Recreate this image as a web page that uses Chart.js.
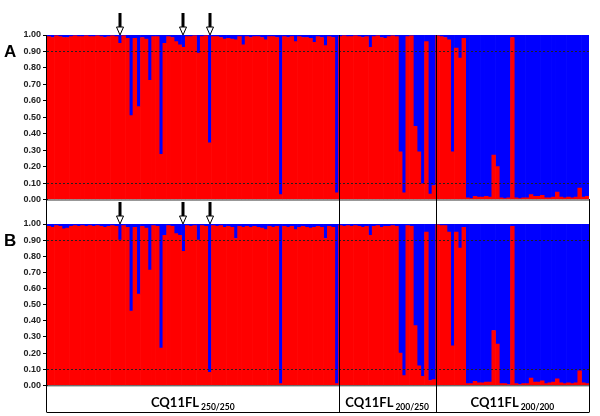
<!DOCTYPE html>
<html>
<head>
<meta charset="utf-8">
<script src="https://cdn.jsdelivr.net/npm/chart.js@4"></script>
<style>
  html, body { margin: 0; padding: 0; background: #fff; }
  #wrap { position: relative; width: 600px; height: 416px; }
  #wrap canvas { position: absolute; left: 0; top: 0; }
</style>
</head>
<body>
<div id="wrap">
  <canvas id="chartA" width="600" height="416"></canvas>
  <canvas id="chartB" width="600" height="416"></canvas>
</div>
<script>
// groups of individuals
const groupNames = ['CQ11FL', 'CQ11FL', 'CQ11FL'];
const groupSubs = ['250/250', '200/250', '200/200'];

// red cluster membership, panel A, per group
const redA1 = [0.99,0.985,0.995,0.99,0.985,0.985,0.99,0.995,0.99,0.99,
  0.995,0.99,0.99,0.995,0.99,0.985,0.99,0.995,0.99,0.95,
  0.995,0.98,0.51,0.98,0.565,0.985,0.975,0.725,0.99,0.99,
  0.275,0.95,0.99,0.985,0.96,0.94,0.925,0.99,0.99,0.995,
  0.89,0.99,0.995,0.345,0.99,0.99,0.985,0.975,0.98,0.975,
  0.97,0.99,0.94,0.99,0.985,0.99,0.99,0.985,0.97,0.99,
  0.99,0.985,0.03,0.99,0.985,0.99,0.96,0.99,0.985,0.985,
  0.98,0.955,0.99,0.985,0.935,0.99,0.985,0.04];
const redA2 = [0.99,0.995,0.99,0.99,0.995,0.99,0.985,0.99,0.925,0.99,
  0.995,0.985,0.98,0.99,0.995,0.99,0.29,0.04,0.99,0.995,
  0.445,0.29,0.095,0.96,0.033,0.085];
const redA3 = [0.995,0.99,0.985,0.97,0.29,0.92,0.86,0.98,0.01,0.005,
  0.02,0.015,0.015,0.02,0.015,0.27,0.20,0.01,0.005,0.01,
  0.985,0.01,0.005,0.01,0.01,0.03,0.02,0.02,0.025,0.01,
  0.01,0.015,0.045,0.015,0.01,0.015,0.01,0.015,0.07,0.015,
  0.02];

// red cluster membership, panel B, per group
const redB1 = [0.985,0.98,0.99,0.985,0.97,0.975,0.985,0.99,0.985,0.99,
  0.985,0.99,0.985,0.99,0.985,0.98,0.985,0.99,0.985,0.90,
  0.99,0.98,0.46,0.98,0.565,0.985,0.975,0.715,0.99,0.985,
  0.23,0.93,0.99,0.985,0.94,0.93,0.83,0.99,0.985,0.99,
  0.90,0.99,0.985,0.08,0.99,0.985,0.99,0.98,0.985,0.98,
  0.91,0.985,0.98,0.985,0.98,0.985,0.98,0.975,0.965,0.985,
  0.98,0.985,0.01,0.985,0.98,0.985,0.965,0.98,0.985,0.98,
  0.975,0.98,0.985,0.98,0.91,0.985,0.98,0.01];
const redB2 = [0.99,0.985,0.99,0.985,0.99,0.985,0.98,0.985,0.93,0.985,
  0.99,0.98,0.985,0.985,0.99,0.985,0.20,0.06,0.99,0.985,
  0.37,0.12,0.055,0.95,0.03,0.035];
const redB3 = [0.995,0.99,0.99,0.95,0.245,0.95,0.85,0.98,0.01,0.01,
  0.025,0.015,0.015,0.02,0.02,0.34,0.255,0.01,0.01,0.005,
  0.985,0.01,0.005,0.01,0.01,0.045,0.02,0.02,0.027,0.01,
  0.015,0.02,0.04,0.015,0.01,0.015,0.01,0.015,0.09,0.015,
  0.01];

// individuals marked with arrows
const arrowIdx = [19, 36, 43];
// dotted threshold lines
const thresholds = [0.9, 0.1];

const groupSizes = [redA1.length, redA2.length, redA3.length];
const labels = [];
groupSizes.forEach((n, g) => {
  for (let i = 1; i <= n; i++) labels.push(groupNames[g] + groupSubs[g] + '-' + i);
});

const RED = '#ff0000';
const BLUE = '#0000ff';

function overlay(panelLabel, isBottom) {
  return {
    id: 'overlay' + panelLabel,
    afterDatasetsDraw(chart) {
      const ctx = chart.ctx;
      const a = chart.chartArea;
      const x = chart.scales.x;
      const y = chart.scales.y;
      ctx.save();

      // dotted lines
      ctx.strokeStyle = '#222';
      ctx.lineWidth = 1;
      ctx.setLineDash([2, 2]);
      thresholds.forEach(t => {
        const py = Math.round(y.getPixelForValue(t)) + 0.5;
        ctx.beginPath();
        ctx.moveTo(a.left, py);
        ctx.lineTo(a.right, py);
        ctx.stroke();
      });
      ctx.setLineDash([]);

      // bottom edge
      ctx.strokeStyle = '#333';
      ctx.beginPath();
      ctx.moveTo(a.left, a.bottom + 0.5);
      ctx.lineTo(a.right, a.bottom + 0.5);
      ctx.stroke();

      // arrows
      arrowIdx.forEach(i => {
        const px = Math.round(x.getPixelForValue(i));
        ctx.fillStyle = '#000';
        ctx.fillRect(px - 1.5, a.top - 22, 3, 14);
        ctx.beginPath();
        ctx.moveTo(px - 3.5, a.top - 8);
        ctx.lineTo(px + 3.5, a.top - 8);
        ctx.lineTo(px, a.top);
        ctx.closePath();
        ctx.fillStyle = '#fff';
        ctx.fill();
        ctx.strokeStyle = '#000';
        ctx.lineWidth = 1;
        ctx.stroke();
      });

      // panel letter
      ctx.fillStyle = '#000';
      ctx.font = 'bold 17px "Liberation Sans", Arial, sans-serif';
      ctx.textAlign = 'left';
      ctx.textBaseline = 'middle';
      ctx.fillText(panelLabel, 4, y.getPixelForValue(0.9) + 1);

      if (isBottom) {
        const top = 35;
        const bottom = 412;
        const bounds = [];
        let cum = 0;
        groupSizes.forEach(n => {
          const l = cum === 0 ? a.left : (x.getPixelForValue(cum - 1) + x.getPixelForValue(cum)) / 2;
          cum += n;
          const r = cum === labels.length ? a.right : (x.getPixelForValue(cum - 1) + x.getPixelForValue(cum)) / 2;
          bounds.push([l, r]);
        });
        ctx.strokeStyle = '#000';
        ctx.lineWidth = 1;
        // group separators
        bounds.slice(1).forEach(b => {
          const sx = Math.round(b[0]) + 0.5;
          ctx.beginPath();
          ctx.moveTo(sx, top);
          ctx.lineTo(sx, bottom);
          ctx.stroke();
        });
        // frame lines
        ctx.beginPath();
        ctx.moveTo(a.left - 0.5, top);
        ctx.lineTo(a.left - 0.5, bottom);
        ctx.moveTo(a.right + 0.5, 199);
        ctx.lineTo(a.right + 0.5, bottom);
        ctx.moveTo(a.left - 0.5, bottom + 0.5);
        ctx.lineTo(a.right + 0.5, bottom + 0.5);
        ctx.stroke();

        // group labels
        bounds.forEach((b, g) => {
          const cx = (b[0] + b[1]) / 2;
          ctx.font = 'bold 13px Lato, "Liberation Sans", sans-serif';
          const w1 = ctx.measureText(groupNames[g]).width;
          ctx.font = 'bold 8.5px Lato, "Liberation Sans", sans-serif';
          const w2 = ctx.measureText(groupSubs[g]).width;
          const sx = cx - (w1 + 2 + w2) / 2;
          ctx.textAlign = 'left';
          ctx.textBaseline = 'alphabetic';
          ctx.fillStyle = '#000';
          ctx.font = 'bold 13px Lato, "Liberation Sans", sans-serif';
          ctx.fillText(groupNames[g], sx, 406.5);
          ctx.font = 'bold 8.5px Lato, "Liberation Sans", sans-serif';
          ctx.fillText(groupSubs[g], sx + w1 + 2, 410);
        });
      }
      ctx.restore();
    }
  };
}

function makeChart(id, red, padTop, padBottom, panelLabel, isBottom) {
  const ctx = document.getElementById(id).getContext('2d');
  return new Chart(ctx, {
    type: 'bar',
    data: {
      labels: labels,
      datasets: [
        { label: 'Cluster 1', data: red, backgroundColor: RED, borderWidth: 0 },
        { label: 'Cluster 2', data: red.map(v => +(1 - v).toFixed(3)), backgroundColor: BLUE, borderWidth: 0 }
      ]
    },
    options: {
      responsive: false,
      animation: false,
      devicePixelRatio: 1,
      layout: { padding: { top: padTop, bottom: padBottom, left: 0, right: 11 } },
      plugins: { legend: { display: false }, tooltip: { enabled: false } },
      datasets: { bar: { barPercentage: 1, categoryPercentage: 1 } },
      scales: {
        x: { stacked: true, display: false },
        y: {
          stacked: true,
          min: 0,
          max: 1,
          afterFit(scale) { scale.width = 47; },
          ticks: {
            stepSize: 0.1,
            padding: 2,
            color: '#222',
            font: { family: '"Liberation Sans", Arial, sans-serif', size: 9, weight: 'bold' },
            callback: v => Number(v).toFixed(2)
          },
          grid: { drawOnChartArea: false, tickLength: 4, color: '#000' },
          border: { display: true, color: '#000' }
        }
      }
    },
    plugins: [overlay(panelLabel, isBottom)]
  });
}

makeChart('chartA', redA1.concat(redA2, redA3), 35, 416 - 199.5, 'A', false);
makeChart('chartB', redB1.concat(redB2, redB3), 224, 416 - 385.3, 'B', true);
</script>
</body>
</html>
